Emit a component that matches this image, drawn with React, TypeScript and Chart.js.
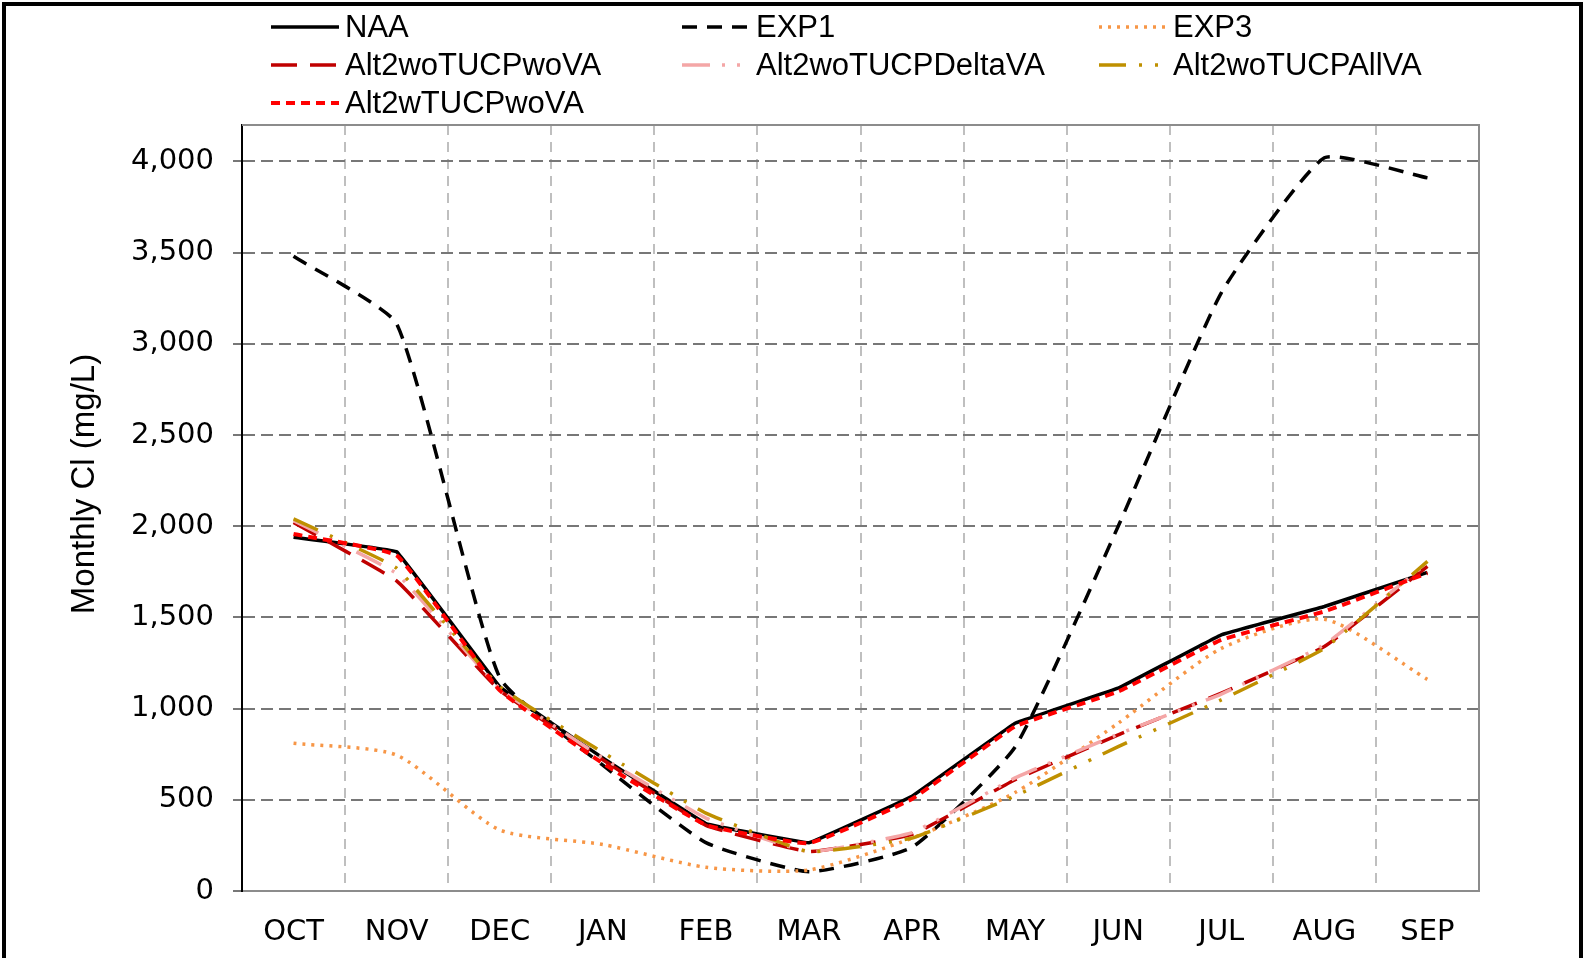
import React, { useEffect, useRef } from 'react';
import { Chart, registerables } from 'chart.js';

Chart.register(...registerables);

const months = ['OCT', 'NOV', 'DEC', 'JAN', 'FEB', 'MAR', 'APR', 'MAY', 'JUN', 'JUL', 'AUG', 'SEP'];
const seriesNames = ['NAA', 'EXP1', 'EXP3', 'Alt2woTUCPwoVA', 'Alt2woTUCPDeltaVA', 'Alt2woTUCPAllVA', 'Alt2wTUCPwoVA'];

const naa = [1940, 1860, 1120, 730, 370, 265, 520, 920, 1112, 1405, 1560, 1747];
const exp1 = [3480, 3110, 1170, 690, 265, 106, 240, 790, 2000, 3280, 4020, 3910];
const exp3 = [810, 745, 335, 255, 130, 115, 290, 540, 920, 1330, 1490, 1160];
const alt2woTUCPwoVA = [2020, 1700, 1100, 720, 360, 216, 310, 610, 856, 1085, 1340, 1780];
const alt2woTUCPDeltaVA = [2030, 1740, 1110, 730, 400, 215, 320, 620, 860, 1080, 1350, 1800];
const alt2woTUCPAllVA = [2040, 1770, 1120, 760, 427, 215, 290, 521, 792, 1048, 1330, 1807];
const alt2wTUCPwoVA = [1957, 1840, 1100, 700, 362, 262, 505, 902, 1094, 1377, 1533, 1743];

const yTickValues = [0, 500, 1000, 1500, 2000, 2500, 3000, 3500, 4000];
const yAxisTitle = 'Monthly Cl (mg/L)';

const gridLegend = {
  id: 'gridLegend',
  beforeDatasetsDraw(chart: any) {
    const { ctx, chartArea } = chart;
    ctx.save();
    ctx.strokeStyle = '#8c8c8c';
    ctx.lineWidth = 2;
    ctx.beginPath();
    ctx.moveTo(chartArea.left, chartArea.top);
    ctx.lineTo(chartArea.right, chartArea.top);
    ctx.lineTo(chartArea.right, chartArea.bottom);
    ctx.stroke();
    ctx.restore();
  },
  afterDraw(chart: any, _args: any, opts: any) {
    const ctx = chart.ctx;
    chart.data.datasets.forEach((ds: any, i: number) => {
      const col = i % 3;
      const row = Math.floor(i / 3);
      const x0 = opts.colX[col];
      const y = opts.rowY[row];
      ctx.save();
      ctx.strokeStyle = ds.borderColor;
      ctx.lineWidth = ds.borderWidth;
      ctx.setLineDash(ds.borderDash || []);
      ctx.beginPath();
      ctx.moveTo(x0, y);
      ctx.lineTo(x0 + opts.lineLen, y);
      ctx.stroke();
      ctx.setLineDash([]);
      ctx.fillStyle = '#000';
      ctx.font = opts.font;
      ctx.textBaseline = 'middle';
      ctx.textAlign = 'left';
      ctx.fillText(ds.label, x0 + opts.lineLen + opts.gap, y + 1);
      ctx.restore();
    });
    // y-axis title
    ctx.save();
    ctx.translate(opts.titleX, opts.titleY);
    ctx.rotate(-Math.PI / 2);
    ctx.fillStyle = '#000';
    ctx.font = opts.titleFont;
    ctx.textAlign = 'center';
    ctx.textBaseline = 'middle';
    ctx.fillText(yAxisTitle, 0, 0);
    ctx.restore();
    // outer frame
    ctx.save();
    ctx.strokeStyle = '#000';
    ctx.lineWidth = 4;
    ctx.strokeRect(4, 4, 1577, 1000);
    ctx.restore();
  },
};

export default function App() {
  const ref = useRef<HTMLCanvasElement | null>(null);

  useEffect(() => {
    if (!ref.current) return;
    const mk = (label: string, data: number[], color: string, width: number, dash: number[], tension: number, order: number) => ({
      label,
      data,
      borderColor: color,
      backgroundColor: color,
      borderWidth: width,
      borderDash: dash,
      borderCapStyle: 'butt',
      borderJoinStyle: 'round',
      pointRadius: 0,
      pointHoverRadius: 0,
      tension,
      fill: false,
      order,
    });
    const chart = new Chart(ref.current, {
      type: 'line',
      data: {
        labels: months,
        datasets: [
          mk(seriesNames[0], naa, '#000000', 3.5, [], 0.04, 7),
          mk(seriesNames[1], exp1, '#000000', 3.5, [15, 10], 0.15, 6),
          mk(seriesNames[2], exp3, '#F79646', 3.5, [3, 6], 0.22, 5),
          mk(seriesNames[3], alt2woTUCPwoVA, '#C00000', 3.5, [26, 13], 0.1, 4),
          mk(seriesNames[4], alt2woTUCPDeltaVA, '#F4A6A6', 3.5, [28, 12, 3, 12, 3, 12], 0.1, 3),
          mk(seriesNames[5], alt2woTUCPAllVA, '#BF9000', 3.5, [27, 13, 3, 13, 3, 13], 0.1, 2),
          mk(seriesNames[6], alt2wTUCPwoVA, '#FF0000', 4, [9, 6], 0.1, 1),
        ] as any,
      },
      options: {
        responsive: false,
        devicePixelRatio: 1,
        animation: false,
        layout: { padding: { top: 125, right: 106, left: 0, bottom: 0 } },
        plugins: {
          legend: { display: false },
          tooltip: { enabled: false },
          gridLegend: {
            colX: [271, 682, 1099],
            rowY: [27, 65, 103],
            lineLen: 68,
            gap: 6,
            font: '31px "Liberation Sans"',
            titleFont: '33px "Liberation Sans"',
            titleX: 85,
            titleY: 484,
          },
        } as any,
        scales: {
          x: {
            type: 'category',
            offset: true,
            afterFit: (s: any) => { s.height = 67; },
            grid: {
              display: true,
              offset: true,
              drawTicks: false,
              color: '#BFBFBF',
              lineWidth: 2,
            },
            border: { display: true, color: '#8c8c8c', width: 2, dash: [10, 7] },
            ticks: {
              color: '#000',
              padding: 24,
              font: { family: 'DejaVu Sans', size: 29 },
              maxRotation: 0,
              autoSkip: false,
            },
          },
          y: {
            type: 'linear',
            min: 0,
            max: 4200,
            afterFit: (s: any) => { s.width = 242; },
            afterBuildTicks: (s: any) => {
              s.ticks = yTickValues.map((v) => ({ value: v }));
            },
            grid: {
              display: true,
              color: '#777777',
              lineWidth: 2,
              drawTicks: true,
              tickLength: 9,
              tickColor: '#777777',
              tickWidth: 2,
              tickBorderDash: [],
            },
            border: { display: true, color: '#000', width: 2, dash: [12, 6] },
            ticks: {
              color: '#000',
              padding: 19,
              font: { family: 'DejaVu Sans', size: 29 },
              callback: (v: any) => Number(v).toLocaleString('en-US'),
            },
          },
        },
      },
      plugins: [gridLegend as any],
    } as any);
    return () => chart.destroy();
  }, []);

  return (
    <div style={{ position: 'absolute', left: 0, top: 0, width: 1585, height: 958, background: '#fff' }}>
      <canvas ref={ref} width={1585} height={958} />
    </div>
  );
}
